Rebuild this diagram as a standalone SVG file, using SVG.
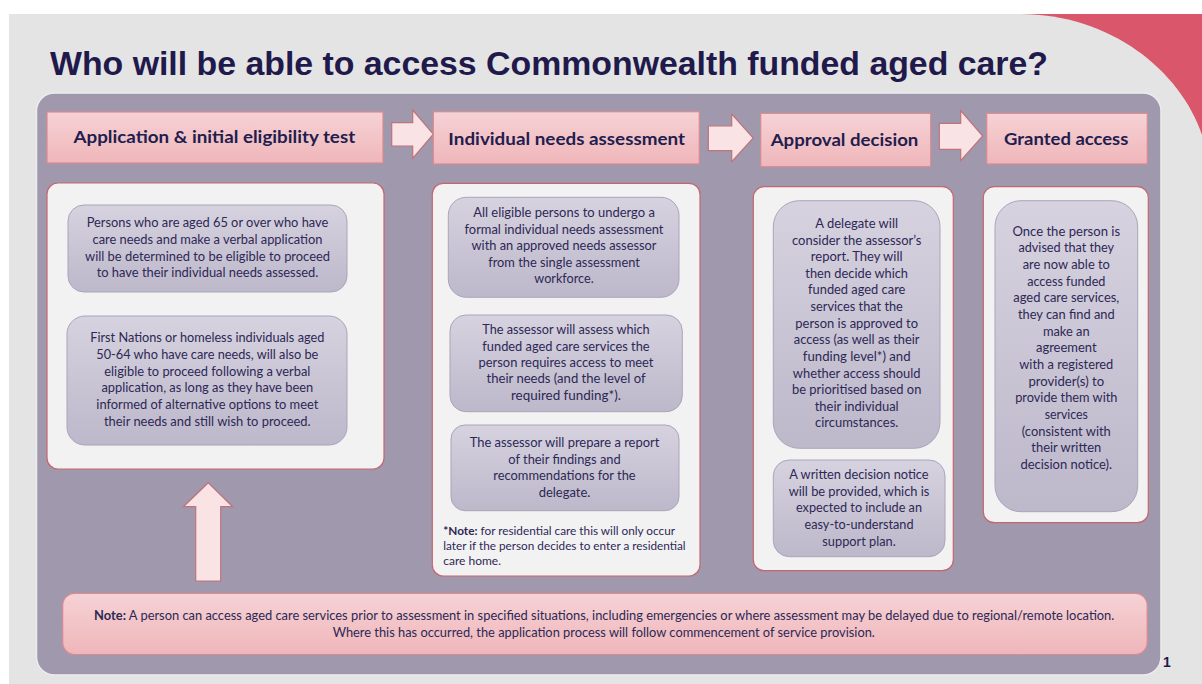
<svg xmlns="http://www.w3.org/2000/svg" width="1202" height="684" viewBox="0 0 1202 684">
<defs>
<linearGradient id="gPink" x1="0" y1="0" x2="0" y2="1"><stop offset="0" stop-color="#f6d2d5"/><stop offset="1" stop-color="#efb6ba"/></linearGradient>
<linearGradient id="gLav" x1="0" y1="0" x2="0" y2="1"><stop offset="0" stop-color="#d6d2df"/><stop offset="1" stop-color="#bdb8ca"/></linearGradient>
<style>
.hdr{fill:url(#gPink);stroke:#d88b91;stroke-width:1.2}
.hdrt{font-family:Lato,"Open Sans","Liberation Sans",sans-serif;font-weight:bold;font-size:17px;fill:#221d4e;text-anchor:middle}
.arr{fill:#fae3e5;stroke:#bf737a;stroke-width:1.2}
.pnl{fill:#f2f2f2;stroke:#c4666f;stroke-width:1.2}
.lav{fill:url(#gLav);stroke:#aaa4bb;stroke-width:1}
.t{font-family:Lato,"Open Sans","Liberation Sans",sans-serif;font-size:12.5px;fill:#2d2856;text-anchor:middle}
.tn{font-family:Lato,"Open Sans","Liberation Sans",sans-serif;font-size:11px;fill:#2d2856}
.b{font-weight:bold}
</style>
</defs>
<rect x="0" y="0" width="1202" height="684" fill="#ffffff"/>
<rect x="1000" y="14" width="202" height="170" fill="#d9566b"/>
<path d="M9,14 H1020 C1110,14 1180,70 1202,135 V684 H9 Z" fill="#e4e4e4"/>
<text x="50" y="75" font-family="'Liberation Sans',Arial,sans-serif" font-weight="bold" font-size="34" fill="#1f1a4b" textLength="998" lengthAdjust="spacingAndGlyphs">Who will be able to access Commonwealth funded aged care?</text>
<rect x="36.5" y="93" width="1124.5" height="582" rx="18" fill="#a098ad" stroke="#ececf0" stroke-width="1.5"/>

<g id="connectors">
<path class="arr" d="M391.7,122.7 H412.7 V110 L433.3,134.2 L412.7,158.3 V146 H391.7 Z"/>
<path class="arr" d="M708.3,126 H731.7 V114 L753.3,138 L731.7,161.7 V150.7 H708.3 Z"/>
<path class="arr" d="M939.3,123.3 H960.7 V110.7 L982.7,136 L960.7,160.7 V149.3 H939.3 Z"/>
<path class="arr" d="M195.7,581 V506.7 H183.3 L208.3,482.7 L232.7,506.7 H220.7 V581 Z"/>
</g>

<g id="h1">
<rect class="hdr" x="47" y="112" width="336" height="51"/>
<text class="hdrt" x="214.3" y="143.3" textLength="281.7" lengthAdjust="spacingAndGlyphs">Application &amp; initial eligibility test</text>
</g>
<g id="h2">
<rect class="hdr" x="433.3" y="111.7" width="266" height="52.3"/>
<text class="hdrt" x="566.7" y="145.3" textLength="236.7" lengthAdjust="spacingAndGlyphs">Individual needs assessment</text>
</g>
<g id="h3">
<rect class="hdr" x="760.7" y="113.3" width="170" height="53.4"/>
<text class="hdrt" x="844.5" y="146" textLength="147.7" lengthAdjust="spacingAndGlyphs">Approval decision</text>
</g>
<g id="h4">
<rect class="hdr" x="986.7" y="113.3" width="160.6" height="50.7"/>
<text class="hdrt" x="1066.2" y="145.3" textLength="124.3" lengthAdjust="spacingAndGlyphs">Granted access</text>
</g>

<g id="col1">
<rect class="pnl" x="47" y="183" width="337" height="286" rx="11"/>
<g id="c1b1">
<rect class="lav" x="68" y="205" width="279" height="87" rx="16"/>
<text class="t" x="207.5" y="227.3" textLength="241.7" lengthAdjust="spacingAndGlyphs">Persons who are aged 65 or over who have</text>
<text class="t" x="207.5" y="244" textLength="230" lengthAdjust="spacingAndGlyphs">care needs and make a verbal application</text>
<text class="t" x="207.5" y="260.5" textLength="245" lengthAdjust="spacingAndGlyphs">will be determined to be eligible to proceed</text>
<text class="t" x="207.5" y="277" textLength="221.7" lengthAdjust="spacingAndGlyphs">to have their individual needs assessed.</text>
</g>
<g id="c1b2">
<rect class="lav" x="67" y="316" width="280" height="129" rx="18"/>
<text class="t" x="207.3" y="342.3" textLength="234" lengthAdjust="spacingAndGlyphs">First Nations or homeless individuals aged</text>
<text class="t" x="207.3" y="359" textLength="222" lengthAdjust="spacingAndGlyphs">50-64 who have care needs, will also be</text>
<text class="t" x="207.3" y="375.7" textLength="206" lengthAdjust="spacingAndGlyphs">eligible to proceed following a verbal</text>
<text class="t" x="207.3" y="392.3" textLength="211.7" lengthAdjust="spacingAndGlyphs">application, as long as they have been</text>
<text class="t" x="207.3" y="409" textLength="222" lengthAdjust="spacingAndGlyphs">informed of alternative options to meet</text>
<text class="t" x="207.3" y="425.7" textLength="206.7" lengthAdjust="spacingAndGlyphs">their needs and still wish to proceed.</text>
</g>
</g>

<g id="col2">
<rect class="pnl" x="432.3" y="183.3" width="267.7" height="392.7" rx="11"/>
<g id="c2b1">
<rect class="lav" x="448.3" y="197.3" width="230.7" height="100" rx="18"/>
<text class="t" x="564" y="217.3" textLength="181.7" lengthAdjust="spacingAndGlyphs">All eligible persons to undergo a</text>
<text class="t" x="564" y="234" textLength="199" lengthAdjust="spacingAndGlyphs">formal individual needs assessment</text>
<text class="t" x="564" y="250.3" textLength="185" lengthAdjust="spacingAndGlyphs">with an approved needs assessor</text>
<text class="t" x="564" y="266.7" textLength="151.7" lengthAdjust="spacingAndGlyphs">from the single assessment</text>
<text class="t" x="564" y="283.3" textLength="59.3" lengthAdjust="spacingAndGlyphs">workforce.</text>
</g>
<g id="c2b2">
<rect class="lav" x="450" y="315" width="232.3" height="96.7" rx="16"/>
<text class="t" x="566" y="334" textLength="167.3" lengthAdjust="spacingAndGlyphs">The assessor will assess which</text>
<text class="t" x="566" y="350.7" textLength="167.3" lengthAdjust="spacingAndGlyphs">funded aged care services the</text>
<text class="t" x="566" y="367" textLength="175" lengthAdjust="spacingAndGlyphs">person requires access to meet</text>
<text class="t" x="566" y="383.3" textLength="159" lengthAdjust="spacingAndGlyphs">their needs (and the level of</text>
<text class="t" x="566" y="400" textLength="110" lengthAdjust="spacingAndGlyphs">required funding*).</text>
</g>
<g id="c2b3">
<rect class="lav" x="451" y="425" width="228" height="85.7" rx="14"/>
<text class="t" x="564.5" y="447.3" textLength="189.7" lengthAdjust="spacingAndGlyphs">The assessor will prepare a report</text>
<text class="t" x="564.5" y="464" textLength="112.3" lengthAdjust="spacingAndGlyphs">of their findings and</text>
<text class="t" x="564.5" y="480.3" textLength="142.3" lengthAdjust="spacingAndGlyphs">recommendations for the</text>
<text class="t" x="564.5" y="496.7" textLength="51.7" lengthAdjust="spacingAndGlyphs">delegate.</text>
</g>
<g id="c2note">
<text class="tn" x="443.3" y="534.5" textLength="231.7" lengthAdjust="spacingAndGlyphs"><tspan class="b">*Note:</tspan> for residential care this will only occur</text>
<text class="tn" x="443.3" y="549.5" textLength="242.3" lengthAdjust="spacingAndGlyphs">later if the person decides to enter a residential</text>
<text class="tn" x="443.3" y="564.5" textLength="57.7" lengthAdjust="spacingAndGlyphs">care home.</text>
</g>
</g>

<g id="col3">
<rect class="pnl" x="753.3" y="186.7" width="200" height="384" rx="11"/>
<g id="c3b1">
<rect class="lav" x="773.3" y="200.7" width="166.7" height="247.6" rx="26"/>
<text class="t" x="856.7" y="228" textLength="82.7" lengthAdjust="spacingAndGlyphs">A delegate will</text>
<text class="t" x="856.7" y="244.6" textLength="129.3" lengthAdjust="spacingAndGlyphs">consider the assessor’s</text>
<text class="t" x="856.7" y="261.2" textLength="91.7" lengthAdjust="spacingAndGlyphs">report. They will</text>
<text class="t" x="856.7" y="277.8" textLength="102.7" lengthAdjust="spacingAndGlyphs">then decide which</text>
<text class="t" x="856.7" y="294.4" textLength="97.3" lengthAdjust="spacingAndGlyphs">funded aged care</text>
<text class="t" x="856.7" y="311" textLength="92.3" lengthAdjust="spacingAndGlyphs">services that the</text>
<text class="t" x="856.7" y="327.7" textLength="122.7" lengthAdjust="spacingAndGlyphs">person is approved to</text>
<text class="t" x="856.7" y="344.3" textLength="125.7" lengthAdjust="spacingAndGlyphs">access (as well as their</text>
<text class="t" x="856.7" y="360.9" textLength="107.7" lengthAdjust="spacingAndGlyphs">funding level*) and</text>
<text class="t" x="856.7" y="377.5" textLength="127.7" lengthAdjust="spacingAndGlyphs">whether access should</text>
<text class="t" x="856.7" y="394.1" textLength="129.3" lengthAdjust="spacingAndGlyphs">be prioritised based on</text>
<text class="t" x="856.7" y="410.7" textLength="84" lengthAdjust="spacingAndGlyphs">their individual</text>
<text class="t" x="856.7" y="427.3" textLength="83.3" lengthAdjust="spacingAndGlyphs">circumstances.</text>
</g>
<g id="c3b2">
<rect class="lav" x="773.3" y="460" width="171.7" height="96.7" rx="16"/>
<text class="t" x="859" y="479" textLength="139.3" lengthAdjust="spacingAndGlyphs">A written decision notice</text>
<text class="t" x="859" y="495.7" textLength="140.7" lengthAdjust="spacingAndGlyphs">will be provided, which is</text>
<text class="t" x="859" y="512.3" textLength="126" lengthAdjust="spacingAndGlyphs">expected to include an</text>
<text class="t" x="859" y="529" textLength="109" lengthAdjust="spacingAndGlyphs">easy-to-understand</text>
<text class="t" x="859" y="545.7" textLength="73.3" lengthAdjust="spacingAndGlyphs">support plan.</text>
</g>
</g>

<g id="col4">
<rect class="pnl" x="983.3" y="186.7" width="165" height="336" rx="11"/>
<g id="c4b1">
<rect class="lav" x="995" y="200.7" width="142.7" height="311" rx="26"/>
<text class="t" x="1066.3" y="235.7" textLength="107.7" lengthAdjust="spacingAndGlyphs">Once the person is</text>
<text class="t" x="1066.3" y="252.3" textLength="95.7" lengthAdjust="spacingAndGlyphs">advised that they</text>
<text class="t" x="1066.3" y="269" textLength="87.3" lengthAdjust="spacingAndGlyphs">are now able to</text>
<text class="t" x="1066.3" y="285.6" textLength="78.3" lengthAdjust="spacingAndGlyphs">access funded</text>
<text class="t" x="1066.3" y="302.3" textLength="106" lengthAdjust="spacingAndGlyphs">aged care services,</text>
<text class="t" x="1066.3" y="318.9" textLength="96.7" lengthAdjust="spacingAndGlyphs">they can find and</text>
<text class="t" x="1066.3" y="335.6" textLength="46.7" lengthAdjust="spacingAndGlyphs">make an</text>
<text class="t" x="1066.3" y="352.2" textLength="60.7" lengthAdjust="spacingAndGlyphs">agreement</text>
<text class="t" x="1066.3" y="368.9" textLength="94" lengthAdjust="spacingAndGlyphs">with a registered</text>
<text class="t" x="1066.3" y="385.5" textLength="75.7" lengthAdjust="spacingAndGlyphs">provider(s) to</text>
<text class="t" x="1066.3" y="402.2" textLength="102.3" lengthAdjust="spacingAndGlyphs">provide them with</text>
<text class="t" x="1066.3" y="418.8" textLength="43.3" lengthAdjust="spacingAndGlyphs">services</text>
<text class="t" x="1066.3" y="435.5" textLength="89" lengthAdjust="spacingAndGlyphs">(consistent with</text>
<text class="t" x="1066.3" y="452.1" textLength="70" lengthAdjust="spacingAndGlyphs">their written</text>
<text class="t" x="1066.3" y="468.8" textLength="91.7" lengthAdjust="spacingAndGlyphs">decision notice).</text>
</g>
</g>

<g id="note">
<rect class="hdr" x="62.7" y="593.3" width="1084.5" height="61.2" rx="12"/>
<text class="t" x="604.2" y="620" textLength="1020.3" lengthAdjust="spacingAndGlyphs"><tspan class="b">Note:</tspan> A person can access aged care services prior to assessment in specified situations, including emergencies or where assessment may be delayed due to regional/remote location.</text>
<text class="t" x="603.8" y="636.5" textLength="542.2" lengthAdjust="spacingAndGlyphs">Where this has occurred, the application process will follow commencement of service provision.</text>
</g>

<text x="1163" y="667" font-family="'Liberation Sans',Arial,sans-serif" font-weight="bold" font-size="14" fill="#1f1a4b">1</text>
</svg>
